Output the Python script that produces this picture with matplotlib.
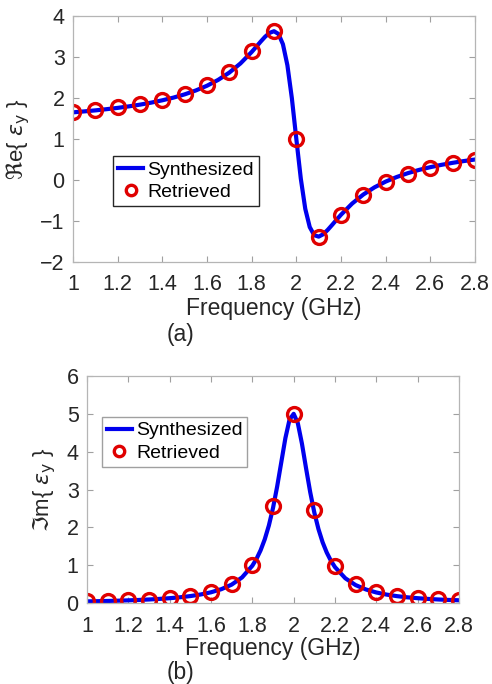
import matplotlib
matplotlib.use('Agg')
import matplotlib.pyplot as plt

plt.rcParams['font.family'] = ['Liberation Sans', 'DejaVu Sans']
plt.rcParams['mathtext.fontset'] = 'dejavusans'

# synthesized (model) curve
freq = [1.00, 1.05, 1.10, 1.15, 1.20, 1.25, 1.30, 1.35, 1.40, 1.45, 1.50,
        1.55, 1.60, 1.65, 1.70, 1.75, 1.80, 1.82, 1.84, 1.86, 1.88, 1.90,
        1.92, 1.94, 1.96, 1.98, 2.00, 2.02, 2.04, 2.06, 2.08, 2.10, 2.12,
        2.14, 2.16, 2.18, 2.20, 2.25, 2.30, 2.35, 2.40, 2.45, 2.50, 2.55,
        2.60, 2.65, 2.70, 2.75, 2.80]
re_synth = [1.650, 1.673, 1.698, 1.727, 1.759, 1.796, 1.838, 1.887, 1.944,
            2.010, 2.089, 2.184, 2.299, 2.442, 2.620, 2.844, 3.122, 3.246,
            3.373, 3.493, 3.588, 3.629, 3.562, 3.311, 2.798, 1.994, 1.000,
            0.034, -0.703, -1.148, -1.346, -1.381, -1.324, -1.220, -1.097,
            -0.970, -0.847, -0.574, -0.354, -0.179, -0.039, 0.074, 0.168,
            0.247, 0.313, 0.370, 0.419, 0.462, 0.500]
im_synth = [0.043, 0.048, 0.054, 0.061, 0.070, 0.080, 0.093, 0.108, 0.127,
            0.151, 0.183, 0.225, 0.283, 0.365, 0.486, 0.675, 0.985, 1.165,
            1.393, 1.682, 2.048, 2.510, 3.075, 3.717, 4.360, 4.848, 5.000,
            4.755, 4.213, 3.560, 2.930, 2.390, 1.953, 1.606, 1.334, 1.119,
            0.948, 0.653, 0.473, 0.357, 0.278, 0.222, 0.181, 0.150, 0.127,
            0.108, 0.093, 0.081, 0.072]

# retrieved samples
freq_ret = [1.0, 1.1, 1.2, 1.3, 1.4, 1.5, 1.6, 1.7, 1.8, 1.9,
            2.0, 2.1, 2.2, 2.3, 2.4, 2.5, 2.6, 2.7, 2.8]
re_ret = [1.65, 1.70, 1.77, 1.85, 1.96, 2.10, 2.32, 2.64, 3.15, 3.64,
          1.01, -1.38, -0.86, -0.37, -0.06, 0.15, 0.30, 0.41, 0.49]
im_ret = [0.05, 0.06, 0.07, 0.09, 0.13, 0.18, 0.28, 0.49, 1.00, 2.56,
          5.00, 2.45, 0.99, 0.49, 0.29, 0.19, 0.13, 0.10, 0.08]

xticks = [1.0, 1.2, 1.4, 1.6, 1.8, 2.0, 2.2, 2.4, 2.6, 2.8]
xticklabels = ['1', '1.2', '1.4', '1.6', '1.8', '2', '2.2', '2.4', '2.6', '2.8']

W, H = 492, 684
fig = plt.figure(figsize=(W / 100, H / 100), dpi=100)


def px_axes(left, top, right, bottom):
    return fig.add_axes([left / W, 1 - bottom / H, (right - left) / W, (bottom - top) / H])


def style(ax, ylim, yticks):
    ax.set_xlim(1, 2.8)
    ax.set_ylim(*ylim)
    ax.set_xticks(xticks)
    ax.set_xticklabels(xticklabels)
    ax.set_yticks(yticks)
    ax.tick_params(direction='in', top=True, right=True, length=4, width=0.8,
                   color='#a0a0a0', labelcolor='#262626', labelsize=15.5, pad=6)
    ax.tick_params(axis='x', pad=9)
    for s in ax.spines.values():
        s.set_color('#b5b5b5')
        s.set_linewidth(0.9)


leg_kw = dict(fontsize=14, frameon=True, fancybox=False, handlelength=1.3,
              handletextpad=0.2, borderpad=0.25, labelspacing=0.25,
              borderaxespad=0, markerscale=0.75, framealpha=1)

ax1 = px_axes(73, 16, 475, 262)
ax1.plot(freq, re_synth, color='#0000ee', lw=3, label='Synthesized')
ax1.plot(freq_ret, re_ret, 'o', ms=10, mfc='none', mec='#e00000', mew=2.4,
         label='Retrieved')
style(ax1, (-2, 4), range(-2, 5))
ax1.set_xlabel('Frequency (GHz)', fontsize=16.5, color='#262626', labelpad=1)
ax1.set_ylabel(r'$\Re$e{ $\varepsilon_{\mathrm{y}}$ }', fontsize=16,
               color='#262626', labelpad=6)
ax1.legend(loc='lower left', bbox_to_anchor=(0.1, 0.228), edgecolor='#262626',
           **leg_kw)
fig.text(180 / W, 1 - 334 / H, '(a)', ha='center', va='center', fontsize=16.5,
         color='#262626')

ax2 = px_axes(87, 376, 459, 603)
ax2.plot(freq, im_synth, color='#0000ee', lw=3, label='Synthesized')
ax2.plot(freq_ret, im_ret, 'o', ms=10, mfc='none', mec='#e00000', mew=2.4,
         label='Retrieved')
style(ax2, (0, 6), range(0, 7))
ax2.set_xlabel('Frequency (GHz)', fontsize=16.5, color='#262626', labelpad=0)
ax2.set_ylabel(r'$\Im$m{ $\varepsilon_{\mathrm{y}}$ }', fontsize=16,
               color='#262626', labelpad=6)
ax2.legend(loc='upper left', bbox_to_anchor=(0.04, 0.82), edgecolor='#a0a0a0',
           **leg_kw)
fig.text(180 / W, 1 - 672 / H, '(b)', ha='center', va='center', fontsize=16.5,
         color='#262626')

fig.savefig('out.png', dpi=100)
